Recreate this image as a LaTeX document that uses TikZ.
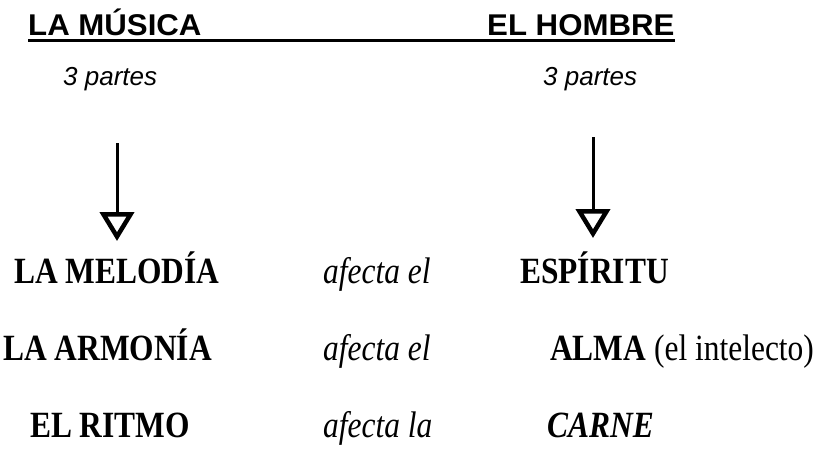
\documentclass[tikz,border=0pt]{standalone}
\usepackage{fontspec}
\setmainfont{Liberation Serif}
\newfontfamily\headfont{Liberation Sans}
\usepackage{tikz}
\usetikzlibrary{positioning}
\usetikzlibrary{arrows.meta}

\begin{document}
\begin{tikzpicture}[x=1pt,y=-1pt,inner sep=0pt,
  head node/.style={anchor=base west,xscale=1.04,font=\headfont\fontsize{30}{34}\selectfont\bfseries},
  part node/.style={anchor=base west,font=\headfont\fontsize{26}{30}\selectfont\itshape},
  row node/.style={anchor=base west,xscale=0.85,font=\fontsize{37}{42}\selectfont\bfseries},
  verb node/.style={anchor=base west,xscale=0.85,font=\fontsize{37}{42}\selectfont\itshape},
  down arrow/.style={line width=3pt,-{Triangle[open,length=29pt,width=34pt,line width=4.5pt]}}]
  \useasboundingbox (0,0) rectangle (820,453);
  % titles
  \node[head node] (musica) at (28,35) {LA MÚSICA};
  \node[head node] (hombre) at (487,35) {EL HOMBRE};
  \draw[line width=2.5pt] ([yshift=-5pt]musica.south west) -- ([yshift=-5pt]hombre.south east);
  \node[part node] (pm) at (63,85) {3 partes};
  \node[part node] (ph) at (543,85) {3 partes};
  % arrows
  \coordinate (m1) at (117,143);
  \coordinate (m2) at (117,241);
  \coordinate (h1) at (593,137);
  \coordinate (h2) at (593,238);
  \draw[down arrow] (m1) -- (m2);
  \draw[down arrow] (h1) -- (h2);
  % rows
  \node[row node] (melodia) at (14,283) {LA MELODÍA};
  \node[verb node] (v1) at (323,283) {afecta el};
  \node[row node] (espiritu) at (520,283) {ESPÍRITU};
  \node[row node] (armonia) at (3,360) {LA ARMONÍA};
  \node[verb node] (v2) at (323,360) {afecta el};
  \node[row node] (alma) at (550,360) {ALMA {\mdseries (el intelecto)}};
  \node[row node] (ritmo) at (30,437) {EL RITMO};
  \node[verb node] (v3) at (323,437) {afecta la};
  \node[row node] (carne) at (547,437) {\itshape CARNE};
\end{tikzpicture}
\end{document}
